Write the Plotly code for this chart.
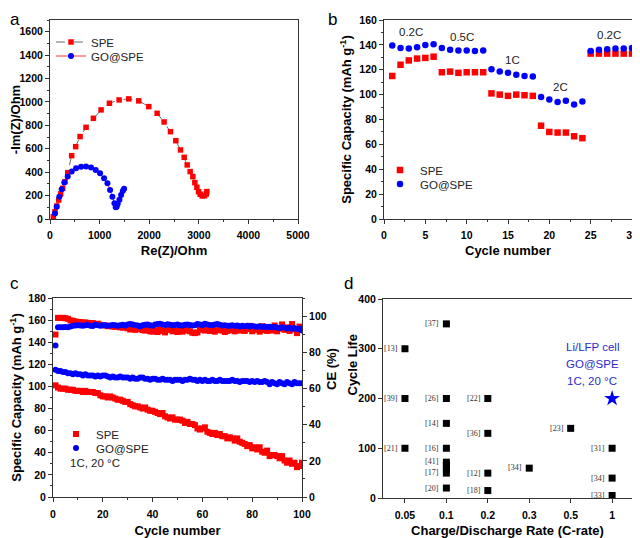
import plotly.graph_objects as go

# ---------------- Panel a: Nyquist ----------------
a_spe_re = [67, 101, 135, 175, 215, 256, 303, 357, 437, 518, 606, 727, 875, 1030, 1198, 1393, 1588,
            1790, 1992, 2160, 2300, 2429, 2537, 2631, 2705, 2766, 2826, 2880, 2920, 2961, 2995, 3028,
            3069, 3116, 3150, 3163]
a_spe_im = [20, 63, 111, 162, 214, 262, 319, 396, 541, 618, 704, 783, 860, 932, 989, 1017, 1026,
            1009, 960, 903, 829, 746, 669, 590, 527, 462, 405, 362, 311, 271, 234, 211,
            197, 199, 214, 234]
a_go_re = [101, 135, 188, 236, 289, 357, 437, 525, 626, 727, 828, 922, 1009, 1090, 1158, 1211, 1258,
           1299, 1325, 1345, 1366, 1400, 1433, 1467, 1494]
a_go_im = [48, 105, 191, 254, 311, 362, 405, 433, 447, 448, 441, 419, 390, 348, 305, 248, 191,
           134, 100, 105, 130, 165, 205, 240, 258]

# ---------------- Panel b: rate capability ----------------
b_cycle = list(range(1, 31))
b_spe = [115, 124, 127.5, 129, 129.5, 130.5, 118, 118.5, 117.5, 118, 118, 118,
         101, 100, 99, 100, 99.5, 99, 75, 70, 69.5, 69.5, 66.5, 65,
         133, 133, 133, 133, 133, 133]
b_go = [139.5, 137.5, 137, 138, 140, 140.5, 137.5, 136, 135.5, 135.5, 135, 135.5,
        120.5, 118.5, 117.5, 116, 115, 114.5, 98, 96, 94, 95, 92, 94.5,
        135, 136, 136.5, 137, 137, 137.5]
b_rate_labels = ["0.2C", "0.5C", "1C", "2C", "0.2C"]
b_rate_x = [3.3, 9.4, 15.5, 21.3, 27.2]
b_rate_y = [150, 146, 128, 106, 148]

# ---------------- Panel c: cycling at 1C ----------------
c_cycle = list(range(1, 101))
c_spe_cap = [101, 99, 98, 98, 98, 97, 97, 97, 96, 96,
             96, 95, 96, 95, 95, 95, 94, 94, 92, 91,
             91, 90, 91, 90, 89, 88, 88, 87, 86, 86,
             84, 83, 82, 82, 81, 80, 81, 79, 78, 78,
             77, 76, 75, 76, 73, 72, 71, 72, 70, 70,
             70, 69, 67, 68, 66, 66, 65, 62, 61, 62,
             63, 59, 58, 57, 58, 56, 57, 55, 55, 53,
             54, 53, 51, 53, 50, 49, 48, 46, 47, 44,
             45, 43, 45, 41, 40, 42, 37, 38, 38, 37,
             35, 37, 33, 31, 33, 30, 31, 27, 28, 31]
c_go_cap = [115, 114, 114, 113, 113, 112, 112, 111, 112, 111,
            111, 110, 111, 110, 110, 110, 109, 110, 109, 110,
            110, 109, 108, 109, 108, 108, 109, 108, 108, 108,
            107, 108, 107, 107, 108, 108, 107, 107, 106, 107,
            107, 106, 106, 107, 106, 106, 106, 105, 106, 106,
            106, 105, 106, 106, 107, 106, 106, 105, 106, 105,
            106, 105, 105, 106, 105, 105, 106, 105, 105, 105,
            105, 106, 105, 105, 104, 105, 105, 105, 104, 105,
            104, 105, 104, 104, 105, 104, 102, 104, 103, 102,
            104, 103, 102, 104, 103, 102, 104, 103, 103, 103]
c_spe_ce = [89.8, 99.0, 99.0, 99.0, 98.8, 98.5, 97.6, 97.4, 97.0, 96.8,
            96.6, 96.4, 96.5, 96.2, 96.0, 96.1, 95.6, 95.8, 95.2, 95.0,
            94.8, 94.4, 94.6, 94.2, 94.0, 94.3, 93.8, 93.6, 94.0, 93.2,
            92.6, 93.4, 92.4, 92.8, 93.6, 92.2, 92.0, 92.8, 91.6, 91.4,
            92.2, 91.2, 92.6, 91.8, 91.0, 92.4, 93.2, 91.6, 92.0, 91.2,
            92.8, 91.4, 92.0, 93.0, 91.6, 90.8, 90.6, 91.0, 92.4, 93.4,
            92.0, 93.6, 91.8, 92.6, 91.4, 92.2, 93.2, 92.0, 91.2, 91.8,
            93.4, 92.2, 91.6, 94.2, 92.0, 93.0, 91.8, 92.8, 94.6, 91.6,
            92.4, 93.8, 91.4, 94.4, 92.2, 91.8, 93.6, 92.0, 94.8, 91.6,
            93.0, 95.4, 92.4, 93.8, 91.8, 95.6, 92.6, 90.6, 94.2, 93.4]
c_go_ce = [83.7, 93.8, 93.9, 93.8, 94.0, 93.9, 94.2, 94.6, 94.8, 95.0,
           94.8, 94.6, 94.9, 95.1, 94.7, 94.5, 95.2, 95.0, 94.6, 94.9,
           95.0, 94.7, 94.8, 95.1, 94.9, 94.6, 95.0, 95.2, 94.8, 95.3,
           95.6, 95.4, 95.0, 94.8, 94.3, 94.9, 95.2, 95.4, 94.9, 94.6,
           95.3, 95.6, 95.7, 95.4, 95.1, 95.5, 95.2, 94.9, 95.1, 95.3,
           95.0, 94.8, 95.2, 95.4, 95.1, 94.8, 95.0, 95.6, 95.3, 95.0,
           95.7, 95.4, 95.1, 94.9, 95.3, 95.6, 95.2, 94.8, 95.0, 94.7,
           94.6, 94.9, 94.5, 94.8, 94.3, 94.6, 94.4, 94.7, 94.2, 94.5,
           94.3, 94.1, 94.4, 94.0, 94.2, 93.9, 94.1, 93.8, 94.0, 93.7,
           93.4, 93.8, 93.5, 93.2, 93.6, 93.0, 93.4, 92.9, 93.1, 92.0]

# ---------------- Panel d: literature comparison ----------------
d_categories = ["0.05", "0.1", "0.2", "0.3", "0.5", "1"]
d_rate = ["0.05", "0.05", "0.05", "0.1", "0.1", "0.1", "0.1", "0.1", "0.1", "0.1", "0.1", "0.1",
          "0.2", "0.2", "0.2", "0.2", "0.3", "0.5", "1", "1", "1"]
d_life = [300, 200, 100, 350, 200, 150, 100, 72, 65, 58, 50, 20,
          200, 130, 50, 15, 60, 140, 100, 40, 5]
d_lab_rate = ["0.05", "0.05", "0.05", "0.1", "0.1", "0.1", "0.1", "0.1", "0.1", "0.1",
              "0.2", "0.2", "0.2", "0.2", "0.3", "0.5", "1", "1", "1"]
d_lab_life = [300, 200, 100, 350, 200, 150, 100, 74, 51, 20,
              200, 130, 50, 15, 62, 140, 100, 40, 5]
d_lab_text = ["[13]", "[39]", "[21]", "[37]", "[26]", "[14]", "[16]", "[41]", "[17]", "[20]",
              "[22]", "[36]", "[12]", "[18]", "[34]", "[23]", "[31]", "[34]", "[33]"]
d_this_rate = ["1"]
d_this_life = [200]
d_note = ["Li/LFP cell", "GO@SPE", "1C, 20 °C"]
d_note_y = [304, 270, 235]

RED = "#ff0000"
BLUE = "#0000ff"
FONT = "Liberation Sans"
# page body keeps an 8 px default margin, so the figure is 8 px smaller and
# every window-pixel position below is converted with that offset
OFF = 8
W, H = 640 - OFF, 538 - OFF


def fx(p):
    return (p - OFF) / W


def fy(p):
    return 1 - (p - OFF) / H


def px_x(a, b):
    return [fx(a), fx(b)]


def px_y(top, bot):
    return [fy(bot), fy(top)]


fig = go.Figure()

# panel a
fig.add_trace(go.Scatter(x=a_spe_re, y=a_spe_im, mode="lines+markers", name="SPE",
                         line=dict(color="#444444", width=0.8, dash="dash"),
                         marker=dict(symbol="square", size=5.5, color=RED),
                         xaxis="x", yaxis="y", legend="legend"))
fig.add_trace(go.Scatter(x=a_go_re, y=a_go_im, mode="lines+markers", name="GO@SPE",
                         line=dict(color=RED, width=0.8),
                         marker=dict(symbol="circle", size=6, color=BLUE),
                         xaxis="x", yaxis="y", legend="legend2"))
# panel b
fig.add_trace(go.Scatter(x=b_cycle, y=b_spe, mode="markers", name="SPE",
                         marker=dict(symbol="square", size=6.5, color=RED),
                         xaxis="x2", yaxis="y2", legend="legend3"))
fig.add_trace(go.Scatter(x=b_cycle, y=b_go, mode="markers", name="GO@SPE",
                         marker=dict(symbol="circle", size=6.5, color=BLUE),
                         xaxis="x2", yaxis="y2", legend="legend4"))
# panel c
fig.add_trace(go.Scatter(x=c_cycle, y=c_spe_cap, mode="markers", name="SPE",
                         marker=dict(symbol="square", size=6, color=RED),
                         xaxis="x3", yaxis="y3", legend="legend5"))
fig.add_trace(go.Scatter(x=c_cycle, y=c_go_cap, mode="markers", name="GO@SPE",
                         marker=dict(symbol="circle", size=6, color=BLUE),
                         xaxis="x3", yaxis="y3", legend="legend6"))
fig.add_trace(go.Scatter(x=c_cycle, y=c_spe_ce, mode="markers", showlegend=False,
                         marker=dict(symbol="square", size=6, color=RED),
                         xaxis="x3", yaxis="y5"))
fig.add_trace(go.Scatter(x=c_cycle, y=c_go_ce, mode="markers", showlegend=False,
                         marker=dict(symbol="circle", size=6, color=BLUE),
                         xaxis="x3", yaxis="y5"))
# panel d
fig.add_trace(go.Scatter(x=d_rate, y=d_life, mode="markers", showlegend=False,
                         marker=dict(symbol="square", size=7, color="black"),
                         xaxis="x4", yaxis="y4"))
fig.add_trace(go.Scatter(x=d_this_rate, y=d_this_life, mode="markers", showlegend=False,
                         marker=dict(symbol="star", size=12, color=BLUE),
                         xaxis="x4", yaxis="y4"))

tickf = dict(family=FONT, size=10.5, color="black", weight="bold")
titlef = dict(family=FONT, size=13, color="black", weight="bold")


def ax(**kw):
    base = dict(showline=True, linecolor="#333333", linewidth=1, mirror=True,
                ticks="outside", ticklen=4, tickcolor="#333333", showgrid=False,
                zeroline=False, tickfont=tickf, automargin=False)
    base.update(kw)
    return base


def mn(d):
    return dict(ticks="outside", ticklen=2, tickcolor="#333333", dtick=d)


def leg(x, y):
    return dict(x=fx(x), y=fy(y), xanchor="left", yanchor="middle",
                bgcolor="rgba(0,0,0,0)", font=dict(family=FONT, size=11.5, color="#222222"),
                itemwidth=30, tracegroupgap=0)


fig.update_layout(
    width=W, height=H, margin=dict(l=0, r=0, t=0, b=0, autoexpand=False),
    paper_bgcolor="white", plot_bgcolor="white",
    font=dict(family=FONT, color="black"),
    xaxis=ax(domain=px_x(50, 298), range=[0, 5000], dtick=1000, anchor="y", minor=mn(500),
             ticklabelstandoff=2,
             title=dict(text="Re(Z)/Ohm", font=titlef, standoff=6)),
    yaxis=ax(domain=px_y(20, 219), range=[0, 1700], dtick=200, anchor="x", minor=mn(100),
             title=dict(text="-Im(Z)/Ohm", font=titlef, standoff=4)),
    xaxis2=ax(domain=px_x(384, 632), range=[0, 30], dtick=5, anchor="y2", minor=mn(2.5),
              ticklabelstandoff=2,
              title=dict(text="Cycle number", font=titlef, standoff=6)),
    yaxis2=ax(domain=px_y(20, 219), range=[0, 160], dtick=20, anchor="x2", minor=mn(10),
              title=dict(text="Specific Capacity (mAh g<sup>-1</sup>)", font=titlef, standoff=4)),
    xaxis3=ax(domain=px_x(53, 302), range=[0, 100], dtick=20, anchor="y3", minor=mn(10),
              ticklabelstandoff=3,
              title=dict(text="Cycle number", font=titlef, standoff=8)),
    yaxis3=ax(domain=px_y(298, 497), range=[0, 180], dtick=20, anchor="x3", mirror=False,
              minor=mn(10),
              title=dict(text="Specific Capacity (mAh g<sup>-1</sup>)", font=titlef, standoff=6)),
    yaxis5=ax(overlaying="y3", side="right", range=[0, 110], anchor="x3", mirror=False,
              tickvals=[0, 20, 40, 60, 80, 100], minor=mn(10)),
    xaxis4=ax(domain=px_x(383, 632), range=[-0.53, 5.48], anchor="y4", type="category",
              categoryorder="array", categoryarray=d_categories, ticklabelstandoff=3,
              title=dict(text="Charge/Discharge Rate (C-rate)", font=titlef, standoff=12)),
    yaxis4=ax(domain=px_y(299, 498), range=[0, 400], dtick=100, anchor="x4"),
    legend=leg(51, 42),
    legend2=leg(51, 56),
    legend3=leg(380, 170),
    legend4=leg(380, 184),
    legend5=leg(56, 434),
    legend6=leg(56, 448),
)

ann = []
# panel letters
for t, x, y in [("a", 8, 2), ("b", 326, 2), ("c", 8, 272), ("d", 342, 272)]:
    ann.append(dict(text=t, x=fx(x), y=min(1, fy(y)), xref="paper", yref="paper",
                    xanchor="left", yanchor="top", showarrow=False,
                    font=dict(family=FONT, size=17, color="black")))
# right-side titles placed between panels c and d
ann.append(dict(text="<b>CE (%)</b>", x=fx(331), y=fy(392), xref="paper", yref="paper",
                textangle=-90, showarrow=False, font=titlef))
ann.append(dict(text="<b>Cycle Life</b>", x=fx(352), y=fy(398), xref="paper", yref="paper",
                textangle=-90, showarrow=False, font=titlef))
# panel b rate labels
for t, x, y in zip(b_rate_labels, b_rate_x, b_rate_y):
    ann.append(dict(text=t, x=x, y=y, xref="x2", yref="y2", showarrow=False,
                    font=dict(family=FONT, size=11.5, color="#222222")))
# panel c condition
ann.append(dict(text="1C, 20 °C", x=6, y=31, xref="x3", yref="y3", xanchor="left",
                showarrow=False, font=dict(family=FONT, size=11.5, color="#222222")))
# panel d reference labels
for t, r, y in zip(d_lab_text, d_lab_rate, d_lab_life):
    ann.append(dict(text=t, x=d_categories.index(r), y=y, xref="x4", yref="y4",
                    xanchor="right", xshift=-5, showarrow=False,
                    font=dict(family="Liberation Serif", size=8, color="#333333")))
for t, y in zip(d_note, d_note_y):
    ann.append(dict(text=t, x=4.52, y=y, xref="x4", yref="y4", showarrow=False,
                    font=dict(family=FONT, size=11.5, color="#2b2bd0")))
fig.update_layout(annotations=ann)

fig.write_html("out.html", config={"displayModeBar": False})
